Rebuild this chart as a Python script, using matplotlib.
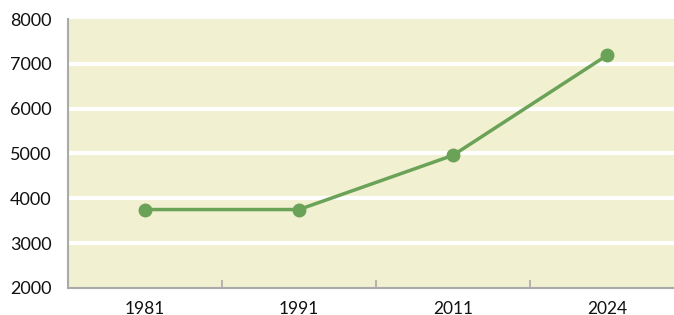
import matplotlib.pyplot as plt

years = ["1981", "1991", "2011", "2024"]
values = [3750, 3750, 4960, 7190]
yticks = [2000, 3000, 4000, 5000, 6000, 7000, 8000]

plt.rcParams['font.family'] = ['Lato', 'DejaVu Sans']

W, H = 674, 315
fig = plt.figure(figsize=(W / 100, H / 100), dpi=100)
ax = fig.add_axes([68 / W, (H - 288) / H, (W - 68) / W, (288 - 19) / H])
ax.set_facecolor("#f1f0d0")

xs = range(len(years))
ax.plot(xs, values, color="#6aa257", lw=2.5, marker="o", ms=9, zorder=3)

ax.set_ylim(2000, 8000)
ax.set_xlim(-0.5, 3.5 - 10 / 154)
ax.set_yticks(yticks)
ax.set_yticklabels([str(t) for t in yticks], fontsize=13, color="#111111")
for t in yticks[1:-1]:
    ax.axhline(t, color="white", lw=3, zorder=1)

ax.set_xticks(list(xs))
ax.set_xticklabels(years, fontsize=12.5, color="#111111")
ax.set_xticks([0.5, 1.5, 2.5], minor=True)
ax.tick_params(axis="x", which="major", length=0, pad=9)
ax.tick_params(axis="x", which="minor", length=6, direction="in", color="#aaaaaa", width=1.2)
ax.tick_params(axis="y", length=0, pad=12)

for s in ["top", "right"]:
    ax.spines[s].set_visible(False)
for s in ["left", "bottom"]:
    ax.spines[s].set_color("#aaaaaa")
    ax.spines[s].set_linewidth(1.5)

fig.savefig("out.png", dpi=100)
